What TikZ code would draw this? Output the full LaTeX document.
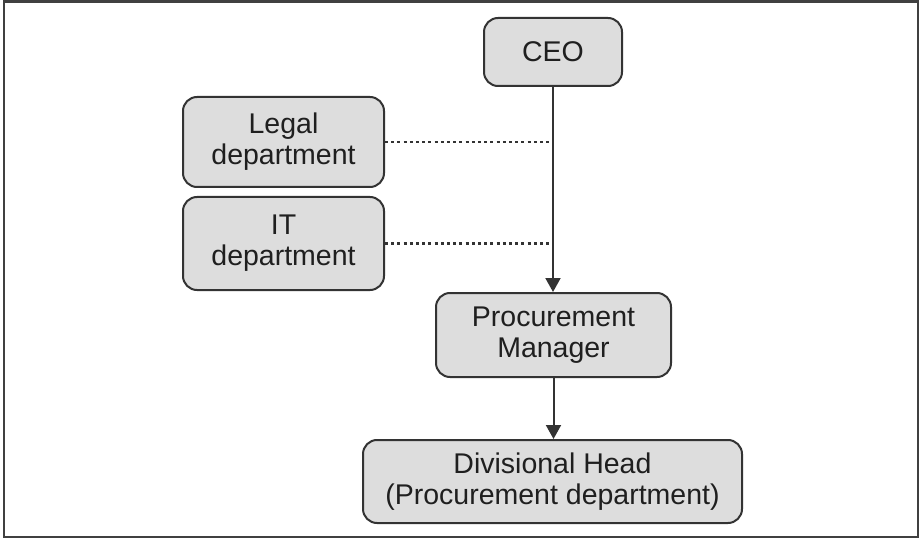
\documentclass[tikz,border=0pt]{standalone}
\usepackage{fontspec}
\setmainfont{Liberation Sans}
\usetikzlibrary{arrows.meta}
\definecolor{boxfill}{HTML}{DDDDDD}
\definecolor{edge}{HTML}{333333}
\begin{document}
\begin{tikzpicture}[x=1pt,y=-1pt,
  orgbox/.style={draw=edge, line width=2pt, fill=boxfill, rounded corners=14pt,
    align=center, inner sep=0pt, font=\fontsize{28.5}{31}\selectfont, text=black!88},
  link/.style={draw=edge, line width=2pt, -{Triangle[width=15pt,length=14pt]}},
  dotlink/.style={draw=edge, line width=2.4pt, dash pattern=on 3pt off 3.2pt}]
  % outer frame
  \draw[line width=2.2pt, draw=black!75] (4,1.5) rectangle (918,537);
  \useasboundingbox (0,0) rectangle (921,540);
  % boxes
  \node[orgbox, minimum width=138pt, minimum height=68pt] (ceo) at (553,52) {CEO};
  \node[orgbox, minimum width=201pt, minimum height=90pt] (legal) at (283.5,142) {Legal\\department};
  \node[orgbox, minimum width=201pt, minimum height=93pt] (it) at (283.5,243.5) {IT\\department};
  \node[orgbox, minimum width=235pt, minimum height=84pt] (pm) at (553.5,335) {Procurement\\Manager};
  \node[orgbox, minimum width=379pt, minimum height=83pt] (dh) at (552.5,481.5) {Divisional Head\\(Procurement department)};
  % reporting lines
  \draw[link] (ceo.south) -- (ceo.south |- pm.north);
  \draw[link] (pm.south) -- (pm.south |- dh.north);
  % dotted advisory links
  \coordinate (jl) at (ceo.south |- legal.east);
  \coordinate (ji) at (ceo.south |- it.east);
  \draw[dotlink] (legal.east) -- (jl);
  \draw[dotlink] (it.east) -- (ji);
\end{tikzpicture}
\end{document}
